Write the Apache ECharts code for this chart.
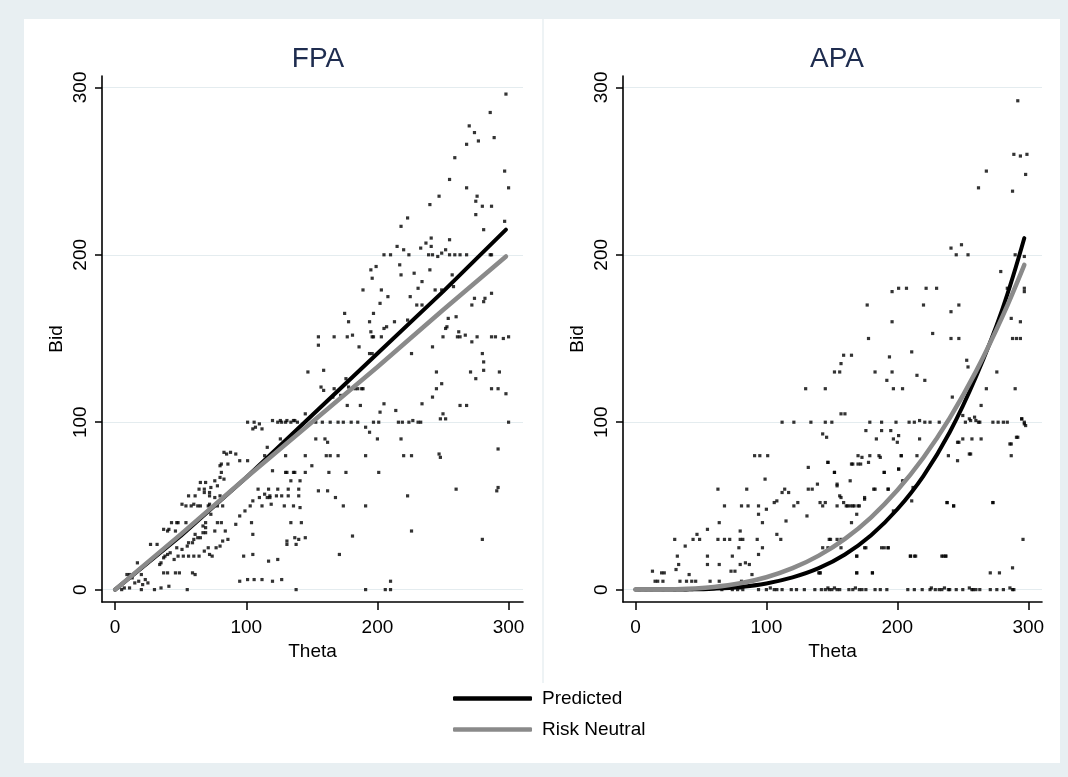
<!DOCTYPE html>
<html>
<head>
<meta charset="utf-8">
<script src="https://cdn.jsdelivr.net/npm/echarts@6/dist/echarts.min.js"></script>
<style>
  html, body { margin: 0; padding: 0; background: #e8eff2; }
  #chart { width: 1068px; height: 777px; }
</style>
</head>
<body>
<div id="chart"></div>
<script>
// tick values shared by both panels
const thetaTicks = [0, 100, 200, 300];
const bidTicks = [0, 100, 200, 300];

// observed bids, [theta, bid]
const fpaScatter = [
  [298,296],[286,285],[270,277],[274,273],[277,268],[268,266],[289,270],[259,258],[297,250],[300,240],
  [255,245],[268,240],[247,235],[276,235],[275,232],[275,224],[280,229],[287,229],[240,230],[281,215],
  [297,220],[223,222],[218,217],[215,205],[220,203],[224,200],[205,200],[210,200],[233,204],[237,207],
  [241,210],[241,205],[239,200],[242,200],[246,199],[249,201],[252,203],[255,209],[255,200],[259,200],
  [263,200],[268,200],[286,200],[287,200],[195,191],[199,193],[196,186],[217,194],[218,188],[228,189],
  [234,184],[231,180],[240,191],[189,179],[203,179],[208,175],[202,171],[225,175],[230,170],[234,170],
  [244,179],[249,179],[257,188],[258,181],[260,163],[254,162],[253,157],[252,156],[272,170],[274,174],
  [281,172],[282,174],[287,177],[175,165],[178,160],[194,160],[197,165],[205,156],[207,157],[213,160],
  [223,161],[262,154],[195,154],[196,151],[197,151],[203,151],[177,151],[181,152],[167,151],[155,151],
  [155,146],[186,145],[194,141],[196,141],[226,141],[242,145],[250,151],[261,151],[263,151],[267,152],
  [276,151],[287,151],[290,151],[296,150],[300,151],[272,148],[280,141],[281,136],[147,130],[159,131],
  [245,130],[271,130],[281,131],[293,130],[157,121],[159,119],[167,120],[176,126],[178,121],[185,120],
  [188,120],[245,120],[242,115],[275,126],[287,120],[292,120],[298,117],[249,123],[166,115],[172,116],
  [177,110],[183,120],[189,120],[187,110],[145,105],[139,100],[205,111],[202,106],[214,107],[234,111],
  [263,110],[268,110],[250,105],[252,102],[101,100],[106,100],[107,97],[110,99],[105,96],[120,101],
  [124,100],[127,100],[131,101],[136,101],[153,100],[158,100],[164,100],[170,100],[174,100],[180,100],
  [185,100],[197,100],[201,100],[216,100],[219,100],[224,100],[227,101],[231,100],[233,100],[248,102],
  [300,100],[191,97],[194,94],[200,90],[218,90],[153,90],[160,90],[162,88],[130,80],[145,80],
  [161,80],[164,80],[170,80],[191,80],[220,80],[226,80],[247,81],[248,79],[292,84],[116,85],
  [114,80],[126,90],[95,77],[81,75],[85,81],[83,82],[150,74],[145,70],[163,70],[176,70],
  [201,70],[130,70],[131,70],[120,71],[134,65],[140,60],[155,59],[162,59],[260,60],[291,59],
  [292,61],[124,60],[118,56],[116,55],[114,57],[109,60],[110,55],[112,50],[105,53],[103,50],
  [132,56],[129,50],[141,49],[168,55],[191,50],[174,50],[223,56],[95,44],[99,47],[104,40],
  [92,39],[134,40],[137,31],[131,27],[131,29],[181,32],[226,35],[280,30],[171,21],[117,17],
  [98,20],[95,5],[106,6],[120,5],[138,0],[191,0],[206,0],[210,0],[210,5],[80,67],
  [76,65],[73,61],[64,60],[68,58],[65,64],[72,56],[76,55],[80,56],[82,50],[78,50],
  [72,51],[71,50],[51,51],[54,50],[56,56],[60,51],[63,50],[65,50],[73,45],[78,40],
  [69,40],[67,38],[69,37],[76,35],[81,40],[84,35],[86,30],[82,29],[61,33],[63,31],
  [60,30],[59,28],[56,28],[55,26],[65,31],[69,34],[67,34],[71,25],[72,21],[74,20],
  [77,25],[80,26],[68,23],[64,20],[60,20],[56,20],[52,20],[48,20],[45,18],[43,40],
  [48,40],[37,36],[40,35],[46,35],[47,25],[51,24],[42,22],[40,21],[38,20],[37,19],
  [35,16],[27,27],[34,15],[37,10],[40,10],[46,10],[49,10],[59,10],[61,9],[17,16],
  [11,9],[9,9],[13,7],[15,4],[20,9],[23,6],[25,4],[18,5],[21,3],[20,0],
  [11,1],[7,1],[5,0],[30,0],[35,1],[41,2],[55,0],[117,60],[118,55],[119,51],
  [123,56],[127,56],[132,60],[136,70],[137,70],[141,65],[140,56],[136,50],[101,77],[105,33],
  [105,21],[124,18],[127,6],[112,6],[101,6],[138,27],[140,30],[145,31],[142,40],[88,82],
  [92,81],[80,74],[86,75],[81,70],[83,66],[69,64],[72,58],[78,62],[61,56],[68,60],
  [58,50],[47,40],[54,40],[41,36],[32,27],[112,96],[126,101],[130,100],[134,100],[137,101]
];

const apaScatter = [
  [292,292],[289,260],[294,259],[299,260],[298,248],[268,250],[262,240],[288,238],[241,204],[249,206],
  [245,200],[254,200],[290,200],[297,199],[279,190],[297,180],[297,178],[284,180],[196,178],[201,180],
  [207,180],[222,180],[230,180],[177,170],[220,170],[247,170],[241,166],[196,160],[287,162],[294,160],
  [178,150],[241,150],[247,150],[288,150],[291,150],[294,150],[227,153],[159,140],[165,140],[157,135],
  [211,142],[194,139],[253,137],[254,133],[152,130],[156,130],[183,130],[196,130],[276,130],[215,128],
  [221,125],[192,125],[130,120],[145,120],[197,120],[204,120],[268,120],[290,120],[242,115],[264,110],
  [250,104],[247,88],[157,105],[160,105],[112,100],[121,100],[134,100],[145,100],[150,100],[179,100],
  [188,100],[199,100],[209,100],[213,100],[217,101],[221,100],[225,100],[232,100],[252,100],[256,101],
  [260,101],[263,100],[273,100],[277,100],[281,100],[284,100],[295,102],[297,100],[298,98],[143,93],
  [146,91],[176,95],[184,90],[188,95],[195,95],[197,90],[201,92],[200,88],[217,90],[250,90],
  [264,90],[292,91],[287,87],[287,80],[256,81],[239,80],[91,80],[95,80],[101,80],[132,73],
  [147,76],[152,70],[165,75],[170,75],[172,75],[170,80],[173,79],[178,76],[179,80],[186,80],
  [190,70],[203,80],[201,72],[205,65],[212,61],[215,80],[99,66],[63,60],[64,40],[85,60],
  [68,50],[81,50],[86,50],[94,45],[97,40],[94,50],[100,48],[106,52],[108,53],[114,60],
  [115,41],[112,58],[117,58],[121,50],[124,52],[131,44],[132,60],[135,60],[139,63],[141,52],
  [143,50],[145,52],[154,62],[157,55],[162,50],[165,40],[167,50],[170,50],[175,54],[169,45],
  [154,50],[183,60],[193,60],[211,53],[197,47],[238,52],[243,50],[273,52],[296,30],[30,30],
  [44,30],[47,33],[49,30],[55,36],[63,30],[68,30],[72,30],[80,35],[82,30],[93,30],
  [108,33],[111,30],[32,20],[33,15],[38,26],[55,20],[55,15],[64,15],[74,20],[79,25],
  [80,30],[13,11],[17,5],[20,10],[22,10],[15,5],[21,5],[31,12],[34,5],[39,5],
  [41,9],[43,5],[46,5],[57,5],[64,5],[73,11],[76,11],[80,15],[84,16],[87,15],
  [89,9],[81,5],[97,25],[94,21],[148,30],[154,30],[157,30],[140,10],[141,10],[169,20],
  [169,10],[176,25],[181,10],[190,25],[193,25],[210,20],[213,20],[235,20],[237,20],[271,10],
  [288,13],[147,76],[152,70],[154,63],[156,56],[159,52],[161,50],[164,50],[166,50],[171,50],
  [164,65],[175,55],[166,75],[182,60],[187,79],[190,70],[193,60],[201,72],[203,80],[204,65],
  [149,30],[143,25],[147,25],[157,25],[175,25],[188,25],[193,25],[169,20],[210,20],[214,20],
  [234,20],[237,20],[141,10],[169,10],[181,10],[278,10],[238,52],[243,50],[273,52],[291,91],
  [286,87],[255,81],[246,77],[246,88],[257,90],[255,102],[259,103],[262,100],[295,102],[297,99],
  [3,0],[8,0],[12,0],[21,0],[30,0],[38,0],[43,0],[51,1],[66,0],[74,0],
  [78,0],[80,1],[82,0],[87,2],[94,0],[100,0],[103,1],[106,0],[108,0],[112,0],
  [119,0],[123,0],[129,0],[137,0],[142,0],[145,0],[147,1],[148,0],[150,0],[152,1],
  [154,0],[156,0],[163,0],[166,0],[168,1],[171,0],[173,0],[176,0],[183,0],[187,0],
  [192,0],[208,0],[213,0],[219,0],[225,0],[226,1],[229,0],[232,0],[234,0],[236,1],
  [239,0],[240,0],[245,0],[250,0],[255,1],[257,0],[258,0],[260,0],[263,0],[271,0],
  [276,0],[281,0],[286,1],[288,0],[289,0]
];

// fitted curves
const fpaLineTheta = [0, 50, 100, 150, 200, 250, 298];
const fpaPredicted = [0, 32, 67, 104, 141, 178, 215];
const fpaRiskNeutral = [0, 33, 67, 100, 133, 167, 199];

const apaLineTheta = [0, 20, 40, 60, 80, 100, 120, 140, 160, 180, 200, 220, 240, 260, 280, 297];
const apaPredicted = [0, 0.01, 0.12, 0.56, 1.6, 3.7, 7.3, 12.8, 21, 32.5, 48, 68, 94, 127, 167, 210];
const apaRiskNeutral = [0, 0.06, 0.47, 1.6, 3.8, 7.4, 12.8, 20.3, 30.3, 43.2, 59.3, 78.9, 102.4, 130.2, 162.6, 194];

const FONT = "'Liberation Sans', Arial, sans-serif";

function pairs(xs, ys) {
  return xs.map((x, i) => [x, ys[i]]);
}

function xAxisFor(idx, min, max) {
  return {
    type: "value",
    gridIndex: idx,
    min: min,
    max: max,
    name: "Theta",
    nameLocation: "middle",
    nameGap: 35,
    nameTextStyle: { fontFamily: FONT, fontSize: 19, color: "#000" },
    axisLine: { show: true, onZero: false, lineStyle: { color: "#000", width: 1.6 } },
    axisTick: { show: true, length: 8, customValues: thetaTicks, lineStyle: { color: "#000", width: 1.5 } },
    axisLabel: { customValues: thetaTicks, margin: 16, fontFamily: FONT, fontSize: 19, color: "#000" },
    splitLine: { show: false },
  };
}

function yAxisFor(idx) {
  return {
    type: "value",
    gridIndex: idx,
    min: -7.4,
    max: 306.8,
    name: "Bid",
    nameLocation: "middle",
    nameGap: 36,
    nameTextStyle: { fontFamily: FONT, fontSize: 19, color: "#000" },
    axisLine: { show: true, onZero: false, lineStyle: { color: "#000", width: 1.6 } },
    axisTick: { show: true, length: 7, customValues: bidTicks, lineStyle: { color: "#000", width: 1.5 } },
    axisLabel: { customValues: bidTicks, rotate: 90, margin: 12, fontFamily: FONT, fontSize: 19, color: "#000" },
    splitLine: { show: true, lineStyle: { color: "#e4ecef", width: 1 } },
  };
}

function scatterSeries(idx, data) {
  return {
    type: "scatter",
    xAxisIndex: idx,
    yAxisIndex: idx,
    symbol: "rect",
    symbolSize: 3.2,
    itemStyle: { color: "#000" },
    data: data,
    z: 3,
  };
}

function curveSeries(idx, name, data, color, width, z, smooth) {
  return {
    type: "line",
    name: name,
    xAxisIndex: idx,
    yAxisIndex: idx,
    data: data,
    smooth: smooth,
    showSymbol: false,
    symbol: "none",
    lineStyle: { color: color, width: width, cap: "round" },
    itemStyle: { color: color },
    z: z,
  };
}

const chart = echarts.init(document.getElementById("chart"), null, { renderer: "canvas" });

const option = {
  backgroundColor: "#e8eff2",
  animation: false,
  graphic: [
    { type: "rect", shape: { x: 24, y: 19, width: 1036, height: 744 }, style: { fill: "#fff" }, z: -10 },
    { type: "rect", shape: { x: 542, y: 19, width: 2, height: 664 }, style: { fill: "#eef3f5" }, z: -9 },
  ],
  title: [
    { text: "FPA", left: 313, top: 40, textAlign: "center",
      textStyle: { fontFamily: FONT, fontSize: 28, fontWeight: "normal", color: "#1e2c4f" } },
    { text: "APA", left: 832, top: 40, textAlign: "center",
      textStyle: { fontFamily: FONT, fontSize: 28, fontWeight: "normal", color: "#1e2c4f" } },
  ],
  legend: {
    data: ["Predicted", "Risk Neutral"],
    orient: "vertical",
    left: 448,
    top: 684,
    icon: "roundRect",
    itemWidth: 79,
    itemHeight: 4.5,
    itemGap: 12,
    textStyle: { fontFamily: FONT, fontSize: 19, color: "#000", padding: [0, 0, 0, 5] },
  },
  grid: [
    { left: 102, top: 76, width: 421, height: 526 },
    { left: 623, top: 76, width: 419, height: 526 },
  ],
  xAxis: [xAxisFor(0, -10, 311), xAxisFor(1, -9.5, 310.5)],
  yAxis: [yAxisFor(0), yAxisFor(1)],
  series: [
    scatterSeries(0, fpaScatter),
    curveSeries(0, "Predicted", pairs(fpaLineTheta, fpaPredicted), "#000", 4, 4, false),
    curveSeries(0, "Risk Neutral", pairs(fpaLineTheta, fpaRiskNeutral), "#8a8a8a", 4.5, 5, false),
    scatterSeries(1, apaScatter),
    curveSeries(1, "Predicted", pairs(apaLineTheta, apaPredicted), "#000", 4, 4, 0.4),
    curveSeries(1, "Risk Neutral", pairs(apaLineTheta, apaRiskNeutral), "#8a8a8a", 4.5, 5, 0.4),
  ],
};

chart.setOption(option);
</script>
</body>
</html>
